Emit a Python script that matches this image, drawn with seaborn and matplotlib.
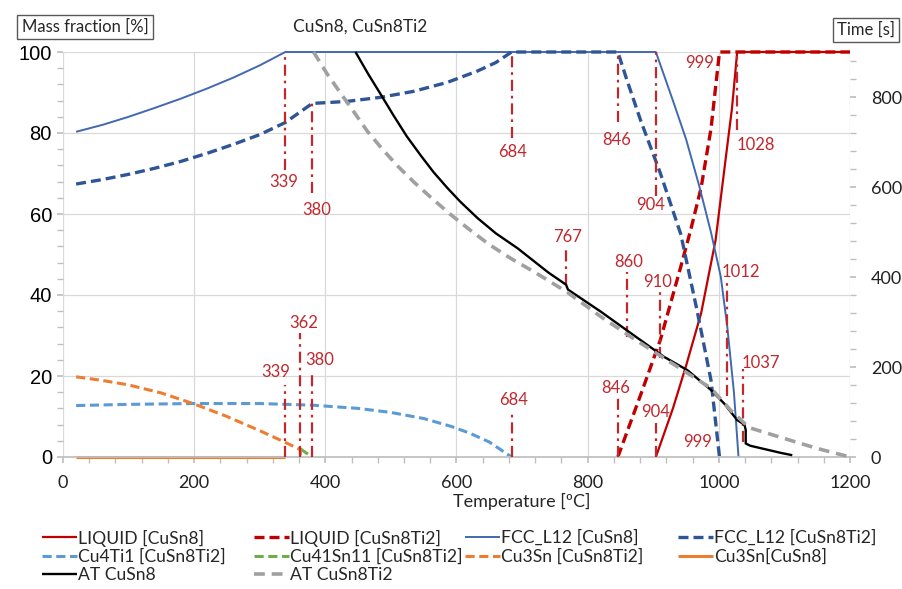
import matplotlib
matplotlib.use("Agg")
import matplotlib.pyplot as plt
import seaborn as sns
from matplotlib.ticker import MultipleLocator

# --- phase mass fractions [%] vs temperature [C] ---
liq_cusn8_T = [904, 930, 950, 973, 995, 1013, 1020, 1028, 1200]
liq_cusn8 = [0, 12, 22.5, 35.5, 53.5, 77, 86, 100, 100]

liq_ti2_T = [846, 880, 911, 942, 957, 973, 988, 1001, 1200]
liq_ti2 = [0, 15, 29, 47, 56, 66.5, 81, 100, 100]

fcc_cusn8_T = [20, 60, 100, 140, 180, 220, 260, 300, 339, 904, 930, 950, 970, 988, 1003, 1013, 1023, 1030]
fcc_cusn8 = [80.3, 82.0, 84.0, 86.2, 88.5, 91.0, 93.7, 96.7, 100, 100, 88, 78.5, 67, 55.5, 44.5, 32, 16, 0]

fcc_ti2_T = [20, 60, 100, 140, 180, 220, 260, 300, 339, 380, 433, 484, 535, 586, 632, 660, 684,
             846, 860, 881, 911, 942, 967, 988, 1001]
fcc_ti2 = [67.4, 68.5, 69.8, 71.3, 73.0, 75.0, 77.2, 79.6, 82.6, 87.3, 87.8, 88.8, 90.3, 92.5, 95.3, 97.4, 100,
           100, 93, 83, 70, 55, 36, 19, 0]

cu4ti1_T = [20, 100, 200, 300, 380, 450, 500, 550, 591, 620, 650, 684]
cu4ti1 = [12.7, 13.0, 13.2, 13.2, 12.8, 12.0, 11.0, 9.5, 7.6, 5.9, 3.7, 0]

cu41sn11_T = [362, 380]
cu41sn11 = [2.0, 0]

cu3sn_ti2_T = [20, 60, 100, 150, 200, 250, 300, 339, 362, 362]
cu3sn_ti2 = [19.8, 18.9, 17.8, 15.8, 13.1, 10.0, 6.5, 3.6, 1.8, 0]

cu3sn_cusn8_T = [20, 339]
cu3sn_cusn8 = [0, 0]

# --- time [s] vs temperature (right axis) ---
at_cusn8_T = [446, 465, 484, 504, 524, 545, 565, 586, 606, 632, 660, 693, 740, 767, 770, 820, 866, 916,
              952, 988, 1008, 1028, 1039, 1041, 1041, 1048, 1095, 1112]
at_cusn8 = [900, 852, 807, 759, 713, 671, 633, 598, 567, 531, 497, 464, 410, 383, 372, 323, 275, 223,
            193, 149, 119, 82, 72, 60, 30, 25, 9, 4]

at_ti2_T = [382, 402, 423, 444, 464, 487, 510, 535, 560, 590, 621, 650, 682, 720, 769, 820, 866, 916,
            988, 1018, 1039, 1049, 1099, 1150, 1200]
at_ti2 = [900, 853, 809, 766, 724, 684, 647, 611, 578, 540, 504, 472, 442, 410, 366, 312, 267, 220,
          153, 104, 75, 64, 41.5, 19, 0]

# --- transformation temperature markers ---
mark_T = [339, 380, 684, 846, 904, 1028, 767, 860, 910, 1012, 1037, 339, 362, 380, 684, 846, 904]
mark_top = [100, 87.3, 100, 100, 100, 99, 51, 45.8, 40.8, 43.3, 21.8, 17.8, 30.5, 21, 10.9, 14.9, 8.3]
mark_bottom = [70.9, 65.2, 78.8, 82.6, 64.5, 80.7, 42.5, 29.7, 24.4, 15, 3.8, 0, 0, 0, 0, 0, 0]

label_text = ["339", "380", "684", "846", "904", "999", "1028", "767", "860", "910", "1012", "1037",
              "339", "362", "380", "684", "846", "904", "999"]
label_T = [336, 387, 686, 845, 896, 970, 1056, 769, 863, 906, 1034, 1064,
           324, 367, 391, 687, 842, 904, 967]
label_y = [68, 61, 75.4, 78.3, 62.2, 97.4, 77, 54.4, 48.2, 43.3, 45.8, 23.1,
           21, 33.2, 24, 14.1, 17, 11.2, 3.8]

RED = "#C00000"
RED_TXT = "#C0282D"
BLUE = "#4169B0"
DBLUE = "#2F5597"
LBLUE = "#5B9BD5"
ORANGE = "#ED7D31"
GREEN = "#70AD47"
GRAY = "#A0A0A0"

sns.set_theme(style="white")
plt.rcParams["font.family"] = ["Lato", "DejaVu Sans"]

fig, ax = plt.subplots(figsize=(9.03, 5.89), dpi=100)
fig.subplots_adjust(left=63 / 903, right=850 / 903, top=1 - 52 / 589, bottom=1 - 457 / 589)
ax2 = ax.twinx()


def draw(axis, T, v, color, lw, dashes=None):
    sns.lineplot(x=T, y=v, ax=axis, color=color, linewidth=lw, sort=False,
                 estimator=None, legend=False)
    line = axis.lines[-1]
    if dashes:
        line.set_dashes(dashes)
    line.set_clip_on(False)
    line.set_solid_capstyle("butt")
    line.set_dash_capstyle("butt")
    line.set_solid_joinstyle("round")
    return line


h = {}
h["LIQUID [CuSn8]"] = draw(ax, liq_cusn8_T, liq_cusn8, RED, 1.6)
h["LIQUID [CuSn8Ti2]"] = draw(ax, liq_ti2_T, liq_ti2, RED, 2.4, (3.0, 1.5))
h["FCC_L12 [CuSn8]"] = draw(ax, fcc_cusn8_T, fcc_cusn8, BLUE, 1.4)
h["FCC_L12 [CuSn8Ti2]"] = draw(ax, fcc_ti2_T, fcc_ti2, DBLUE, 2.4, (3.0, 1.5))
h["Cu4Ti1 [CuSn8Ti2]"] = draw(ax, cu4ti1_T, cu4ti1, LBLUE, 2.2, (3.0, 1.5))
h["Cu41Sn11 [CuSn8Ti2]"] = draw(ax, cu41sn11_T, cu41sn11, GREEN, 2.2, (3.0, 1.5))
h["Cu3Sn [CuSn8Ti2]"] = draw(ax, cu3sn_ti2_T, cu3sn_ti2, ORANGE, 2.2, (3.0, 1.5))
h["Cu3Sn[CuSn8]"] = draw(ax, cu3sn_cusn8_T, cu3sn_cusn8, ORANGE, 2.2)
h["AT CuSn8"] = draw(ax2, at_cusn8_T, at_cusn8, "black", 1.7)
h["AT CuSn8Ti2"] = draw(ax2, at_ti2_T, at_ti2, GRAY, 2.6, (3.0, 1.9))

ax.vlines(mark_T, mark_bottom, mark_top, colors=RED_TXT, linewidth=1.6,
          linestyles=[(0, (5, 2.2, 1.2, 2.2))], zorder=3)
for t, x, y in zip(label_text, label_T, label_y):
    ax.text(x, y, t, color=RED_TXT, fontsize=12, ha="center", va="center")

ax.set_xlim(0, 1200)
ax.set_ylim(0, 100)
ax2.set_ylim(0, 900)
ax.set_xticks(range(0, 1201, 200))
ax.set_yticks(range(0, 101, 20))
ax2.set_yticks(range(0, 801, 200))
ax.xaxis.set_minor_locator(MultipleLocator(40))
ax.yaxis.set_minor_locator(MultipleLocator(4))
ax2.yaxis.set_minor_locator(MultipleLocator(40))

ax.grid(True, which="major", color="#D9D9D9", linewidth=0.9)
ax2.grid(False)
for s in ["left", "right", "top"]:
    ax.spines[s].set_visible(False)
for s in ax2.spines.values():
    s.set_visible(False)
ax.spines["bottom"].set_color("#BFBFBF")

ax.tick_params(axis="x", which="both", direction="out", length=4, color="#BFBFBF",
               bottom=True, pad=9, labelsize=13, labelcolor="#222222")
ax.tick_params(axis="y", which="both", direction="out", length=4, color="#BFBFBF",
               left=True, pad=4, labelsize=14.5, labelcolor="black")
ax2.tick_params(axis="y", which="both", direction="out", length=4, color="#BFBFBF",
                right=True, pad=11, labelsize=13, labelcolor="#222222")
for lab in ax.get_yticklabels():
    lab.set_family(["Liberation Sans", "DejaVu Sans"])
ax.set_xlabel("")
ax.set_ylabel("")
ax2.set_ylabel("")

box = dict(boxstyle="square,pad=0.25", fc="white", ec="#595959", lw=1)
fig.text(85 / 903, 1 - 27 / 589, "Mass fraction [%]", fontsize=12, ha="center", va="center", bbox=box)
fig.text(866 / 903, 1 - 30 / 589, "Time [s]", fontsize=12, ha="center", va="center", bbox=box)
fig.text(360 / 903, 1 - 27 / 589, "CuSn8, CuSn8Ti2", fontsize=12.5, ha="center", va="center")
fig.text(522 / 903, 1 - 501 / 589, "Temperature [ºC]", fontsize=13, ha="center", va="center")

# legend: Excel-style grid, 4 equal columns x 3 rows
legend_rows = [
    ["LIQUID [CuSn8]", "LIQUID [CuSn8Ti2]", "FCC_L12 [CuSn8]", "FCC_L12 [CuSn8Ti2]"],
    ["Cu4Ti1 [CuSn8Ti2]", "Cu41Sn11 [CuSn8Ti2]", "Cu3Sn [CuSn8Ti2]", "Cu3Sn[CuSn8]"],
    ["AT CuSn8", "AT CuSn8Ti2"],
]
col_x = [42, 254, 465, 678]
row_y = [538, 557, 575]
for r, names in enumerate(legend_rows):
    for c, name in enumerate(names):
        fig.legend([h[name]], [name], loc="center left",
                   bbox_to_anchor=(col_x[c] / 903, 1 - row_y[r] / 589),
                   frameon=False, fontsize=12.6, handlelength=2.0, handletextpad=0.05,
                   borderpad=0, borderaxespad=0)

fig.savefig("out.png", dpi=100)
